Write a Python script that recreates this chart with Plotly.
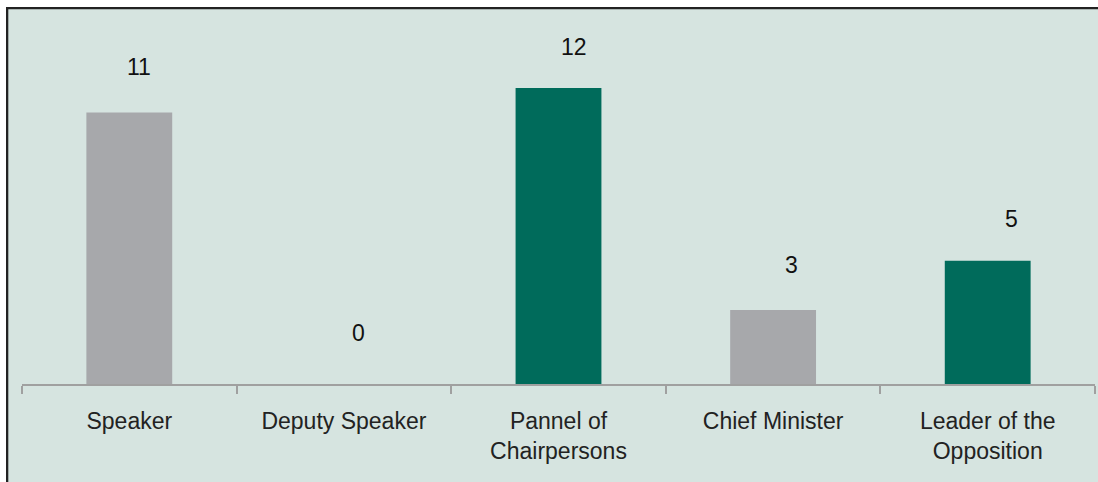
import plotly.graph_objects as go

categories = ["Speaker", "Deputy Speaker", "Pannel of<br>Chairpersons", "Chief Minister", "Leader of the<br>Opposition"]
values = [11, 0, 12, 3, 5]
bar_colors = ["#a7a8ab", "#a7a8ab", "#006b5b", "#a7a8ab", "#006b5b"]
# label pixel offsets (style)
label_dx = [10, 15, 15, 18, 24]
label_dy = [46, 51, 41, 45, 42]

BG = "#d6e4e0"
W, H = 1098, 482
ML, MR, MT, MB = 22, 3, 9, 98
pw, ph = W - ML - MR, H - MT - MB
FONT = "Liberation Sans, Arial, sans-serif"

def px_x(p):
    return (p - ML) / pw

def px_y(p):
    return (H - MB - p) / ph

fig = go.Figure()
fig.add_trace(go.Bar(
    x=categories, y=values, marker=dict(color=bar_colors, line=dict(width=0)),
    width=0.4, hoverinfo="skip",
))

for c, v, dx, dy in zip(categories, values, label_dx, label_dy):
    fig.add_annotation(x=c, y=v, text=str(v), showarrow=False, yshift=dy, xshift=dx,
                       yanchor="middle", font=dict(size=23, color="#111111", family=FONT))

shapes = [
    dict(type="rect", xref="paper", yref="paper", x0=px_x(0), x1=px_x(W), y0=px_y(7), y1=px_y(0),
         fillcolor="white", line=dict(width=0), layer="below"),
    dict(type="rect", xref="paper", yref="paper", x0=px_x(0), x1=px_x(6), y0=px_y(H), y1=px_y(0),
         fillcolor="white", line=dict(width=0), layer="below"),
    dict(type="rect", xref="paper", yref="paper", x0=px_x(6), x1=px_x(W), y0=px_y(9.3), y1=px_y(7),
         fillcolor="#222222", line=dict(width=0), layer="above"),
    dict(type="rect", xref="paper", yref="paper", x0=px_x(6), x1=px_x(8.3), y0=px_y(H), y1=px_y(7),
         fillcolor="#222222", line=dict(width=0), layer="above"),
]

fig.update_layout(
    width=W, height=H,
    margin=dict(l=ML, r=MR, t=MT, b=MB),
    paper_bgcolor=BG, plot_bgcolor=BG,
    showlegend=False,
    shapes=shapes,
    font=dict(family=FONT, color="#222222"),
    xaxis=dict(
        type="category", showline=True, linecolor="#a0a0a0", linewidth=1.5,
        ticks="outside", tickson="boundaries", ticklen=8, tickcolor="#a0a0a0", tickwidth=1.5,
        tickfont=dict(size=23, color="#222222"), ticklabelstandoff=16,
        showgrid=False, zeroline=False, fixedrange=True,
    ),
    yaxis=dict(range=[0, 15.2], visible=False, showgrid=False, zeroline=False, fixedrange=True),
)

fig.write_html("out.html")
